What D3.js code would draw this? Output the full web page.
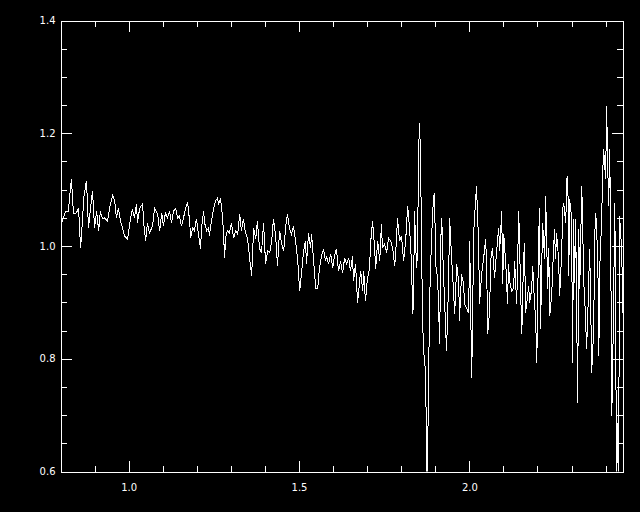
<!DOCTYPE html>
<html>
<head>
<meta charset="utf-8">
<script src="https://cdn.jsdelivr.net/npm/d3@7"></script>
<style>
  html, body { margin: 0; padding: 0; background: #000; }
  svg { display: block; }
  text { font-family: "DejaVu Sans", sans-serif; font-size: 10px; fill: #fff; }
</style>
</head>
<body>
<svg id="chart" width="640" height="512"></svg>
<script>
// spectrum: wavelength and normalised flux
const wavelength = [
  0.803,0.815,0.823,0.832,0.838,0.847,0.853,0.859,0.865,0.868,0.876,0.879,0.882,0.888,0.894,0.900,0.906,0.912,0.917,0.923,
  0.929,0.938,0.944,0.953,0.959,0.964,0.970,0.976,0.982,0.988,0.997,1.003,1.011,1.017,1.023,1.026,1.032,1.041,1.044,1.050,
  1.055,1.061,1.070,1.076,1.085,1.091,1.097,1.102,1.108,1.114,1.120,1.126,1.132,1.138,1.144,1.149,1.155,1.161,1.167,1.173,
  1.179,1.182,1.188,1.193,1.199,1.205,1.211,1.214,1.220,1.223,1.229,1.235,1.237,1.243,1.249,1.255,1.261,1.264,1.270,1.273,
  1.276,1.282,1.284,1.290,1.296,1.302,1.308,
  1.314,1.320,1.326,1.331,1.337,1.343,1.349,1.355,1.361,1.367,1.373,1.378,1.384,1.390,1.396,1.402,1.408,1.414,1.420,1.425,
  1.431,1.437,1.443,1.449,1.455,1.461,1.466,1.472,1.478,1.484,1.490,1.496,1.502,1.508,1.513,1.519,1.522,1.528,1.534,1.537,
  1.543,1.549,1.555,1.560,1.566,1.572,1.578,1.581,1.587,1.593,1.599,1.604,1.610,1.616,1.622,1.628,1.634,1.640,1.646,1.651,
  1.657,1.660,1.666,1.672,1.678,1.681,1.687,1.690,1.695,1.701,1.707,1.710,1.716,1.722,1.725,1.731,1.737,1.742,1.745,1.751,
  1.757,1.763,1.769,1.775,1.781,1.786,1.789,1.795,1.801,1.807,1.813,1.819,1.825,
  1.831,1.833,1.836,1.839,1.845,1.848,1.851,1.854,1.857,1.860,1.863,1.866,1.872,1.875,1.878,1.880,1.883,1.889,1.895,1.898,
  1.901,1.907,1.913,1.916,1.919,1.924,1.927,1.933,1.939,1.942,1.948,1.954,1.957,1.963,1.969,1.971,1.977,1.983,1.986,1.992,
  1.998,2.001,2.007,2.013,2.016,2.021,2.027,2.030,2.036,2.042,2.048,2.051,2.054,2.060,2.062,2.068,2.074,2.077,2.086,2.089,
  2.095,2.098,2.101,2.107,2.112,2.115,2.118,2.124,2.130,2.133,2.139,2.145,
  2.151,2.154,2.159,2.162,2.165,2.171,2.174,2.177,2.183,2.186,2.189,2.195,2.198,2.203,2.206,2.209,2.215,2.221,2.224,2.230,
  2.233,2.236,2.242,2.245,2.250,2.253,2.256,2.262,2.265,2.271,2.274,2.277,2.283,2.286,2.289,2.292,2.294,2.300,2.303,2.306,
  2.309,2.312,2.318,2.321,2.324,2.330,2.333,2.336,2.341,2.344,2.347,2.353,2.356,2.359,2.365,2.368,2.371,2.377,2.380,2.383,
  2.388,2.391,2.394,2.400,2.403,2.406,2.409,2.412,2.415,2.418,2.421,2.424,2.427,2.430,2.432,2.435,2.438,2.441,2.447,2.451
];
const flux = [
  1.041,1.062,1.062,1.119,1.057,1.059,1.067,0.996,1.050,1.085,1.115,1.080,1.032,1.066,1.098,1.032,1.062,1.027,1.062,1.048,
  1.050,1.044,1.067,1.090,1.080,1.050,1.067,1.044,1.032,1.018,1.012,1.039,1.066,1.050,1.075,1.041,1.066,1.075,1.041,1.009,
  1.041,1.023,1.035,1.067,1.057,1.027,1.059,1.035,1.059,1.050,1.062,1.041,1.062,1.066,1.050,1.053,1.035,1.050,1.066,1.078,
  1.044,1.014,1.032,1.027,1.048,1.021,0.995,1.032,1.062,1.041,1.027,1.032,1.018,1.044,1.066,1.080,1.085,1.075,1.083,1.066,
  1.048,0.979,1.014,1.027,1.023,1.041,1.014,
  1.027,1.021,1.057,1.027,1.048,1.023,1.014,0.979,0.947,1.032,1.012,1.044,0.996,0.988,1.041,0.968,0.991,0.988,1.009,1.048,
  1.021,0.965,1.027,1.004,0.991,1.035,1.057,1.032,1.021,1.035,1.009,0.977,0.920,0.956,0.988,1.009,0.968,1.023,0.996,1.021,
  0.973,0.925,0.924,0.961,0.982,0.995,0.973,0.982,0.968,0.986,0.961,0.982,0.995,0.956,0.973,0.952,0.979,0.968,0.979,0.956,
  0.982,0.938,0.968,0.899,0.938,0.956,0.920,0.956,0.902,0.943,0.959,1.004,1.044,0.996,0.959,1.009,0.973,1.039,0.996,1.004,
  0.988,1.014,1.009,0.996,0.965,1.009,1.050,1.009,1.018,0.973,1.009,1.071,1.027,
  0.961,0.879,0.894,1.062,0.961,0.986,1.169,1.218,1.151,0.986,0.862,0.814,0.773,0.565,0.654,0.730,0.897,1.014,1.089,1.092,
  0.968,0.943,0.826,1.009,1.050,0.950,0.908,0.814,0.933,1.050,0.979,0.915,0.879,0.968,0.933,0.867,0.950,0.933,0.897,0.890,
  0.881,1.009,0.766,1.027,1.057,1.106,1.009,0.897,0.950,0.979,1.012,0.956,0.844,0.890,0.973,0.996,0.943,0.968,1.032,0.991,
  1.062,0.933,1.021,0.968,0.897,0.968,0.938,0.920,0.925,0.973,0.897,1.062,
  0.911,0.844,0.973,1.005,0.881,0.911,0.929,0.899,0.924,0.965,0.924,0.863,0.792,1.005,1.067,0.853,1.041,0.977,1.089,0.924,
  0.996,0.876,0.917,0.965,1.030,0.977,1.023,0.977,0.911,0.986,1.066,1.076,1.041,1.119,1.124,0.947,1.083,1.053,0.792,1.048,
  0.934,1.048,0.721,1.030,0.924,1.106,1.023,0.934,0.876,0.817,0.863,0.995,0.911,0.775,0.853,1.018,1.059,0.982,0.805,0.965,
  1.041,1.119,1.172,1.119,1.248,1.147,1.071,1.172,1.000,0.698,0.792,0.934,1.076,0.805,0.548,0.686,0.548,1.053,0.995,0.881
];
const xTickValues = [1.0, 1.5, 2.0];
const yTickValues = [0.6, 0.8, 1.0, 1.2, 1.4];

const svg = d3.select('#chart');
const margin = {top: 20, right: 17.5, bottom: 41, left: 60};
const width = 640 - margin.left - margin.right,
    height = 512 - margin.top - margin.bottom;

const x = d3.scaleLinear().domain([0.8, 2.451]).range([0, width]);
const y = d3.scaleLinear().domain([0.6, 1.4]).range([height, 0]);

const g = svg.append('g')
    .attr('transform', `translate(${margin.left + 0.5},${margin.top + 0.5})`);

g.append('clipPath').attr('id', 'plot-clip')
    .append('rect').attr('x', 0).attr('y', 0).attr('width', width).attr('height', height);

const data = wavelength.map((w, i) => ({w: w, f: flux[i]}));
const line = d3.line().x(d => x(d.w)).y(d => y(d.f));

// aliased white trace like the old device plot
g.append('path')
    .datum(data)
    .attr('clip-path', 'url(#plot-clip)')
    .attr('fill', 'none')
    .attr('stroke', '#fff')
    .attr('stroke-width', 1)
    .attr('shape-rendering', 'crispEdges')
    .attr('d', line);

const majorLen = 11, minorLen = 6;
const xMinor = d3.range(9, 25).map(v => v / 10).filter(v => !xTickValues.includes(v));
const yMinor = d3.range(12, 29).map(v => v / 20).filter(v => !yTickValues.some(t => Math.abs(t - v) < 1e-9));

function axisGroup(axisFn, scale, major, minor, transform, withLabels) {
  const ga = g.append('g').attr('transform', transform);
  ga.call(axisFn(scale).tickValues(major).tickSize(-majorLen).tickPadding(withLabels ? 6 : 0)
      .tickFormat(withLabels ? d3.format('.1f') : ''));
  ga.append('g').call(axisFn(scale).tickValues(minor).tickSize(-minorLen).tickFormat(''))
      .select('.domain').remove();
  ga.selectAll('line, path').attr('stroke', '#fff').attr('shape-rendering', 'crispEdges');
  ga.selectAll('text').attr('fill', '#fff').attr('font-family', 'DejaVu Sans, sans-serif').attr('font-size', 10);
  return ga;
}

const bottomAx = axisGroup(d3.axisBottom, x, xTickValues, xMinor, `translate(0,${height})`, true);
bottomAx.selectAll('text').attr('dy', '0.95em').attr('y', 10);
axisGroup(d3.axisTop, x, xTickValues, xMinor, 'translate(0,0)', false);
const leftAx = axisGroup(d3.axisLeft, y, yTickValues, yMinor, 'translate(0,0)', true);
leftAx.selectAll('text').attr('x', -5);
axisGroup(d3.axisRight, y, yTickValues, yMinor, `translate(${width},0)`, false);

svg.selectAll('.domain').attr('stroke', '#fff');
</script>
</body>
</html>
